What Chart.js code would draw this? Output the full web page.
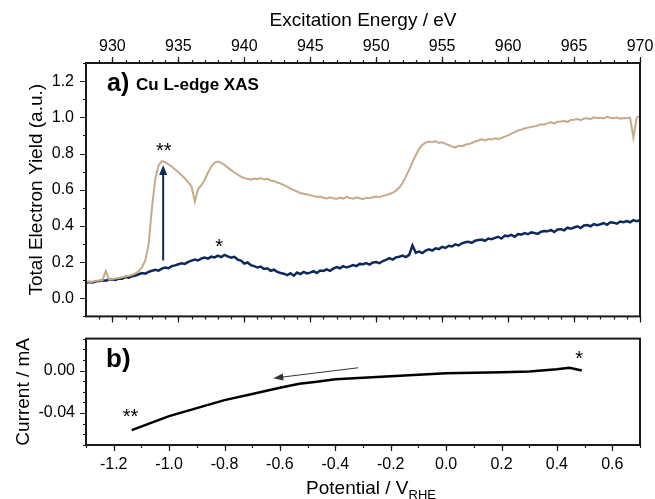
<!DOCTYPE html>
<html>
<head>
<meta charset="utf-8">
<script src="https://cdn.jsdelivr.net/npm/chart.js@4.4.1/dist/chart.umd.min.js"></script>
<style>
body { margin: 0; background: #fff; }
#xas { position: absolute; left: 0; top: 0; }
#cv { position: absolute; left: 0; top: 324px; }
</style>
</head>
<body>
<canvas id="xas" width="655" height="332"></canvas>
<canvas id="cv" width="655" height="175"></canvas>
<script>
// a) Cu L-edge XAS, sampled every 0.25 eV from 928 eV (one row = 1 eV)
var energyStart = 928;
var energyStep = 0.25;
var tanYield = [
  0.090, 0.093, 0.092, 0.097,
  0.098, 0.101, 0.150, 0.104,
  0.106, 0.110, 0.112, 0.116,
  0.121, 0.124, 0.130, 0.138,
  0.150, 0.172, 0.210, 0.300,
  0.500, 0.660, 0.735, 0.758,
  0.752, 0.740, 0.728, 0.712,
  0.697, 0.680, 0.662, 0.640,
  0.618, 0.535, 0.604, 0.625,
  0.655, 0.695, 0.728, 0.750,
  0.755, 0.748, 0.737, 0.722,
  0.708, 0.695, 0.683, 0.672,
  0.664, 0.660, 0.655, 0.662,
  0.658, 0.664, 0.656, 0.660,
  0.651, 0.648, 0.640, 0.634,
  0.625, 0.617, 0.606, 0.598,
  0.590, 0.582, 0.578, 0.574,
  0.569, 0.566, 0.560, 0.562,
  0.556, 0.552, 0.558, 0.553,
  0.549, 0.556, 0.551, 0.560,
  0.554, 0.550, 0.558, 0.553,
  0.548, 0.556, 0.553, 0.558,
  0.562, 0.558, 0.567, 0.570,
  0.576, 0.583, 0.595, 0.612,
  0.637, 0.672, 0.710, 0.752,
  0.790, 0.825, 0.848, 0.860,
  0.866, 0.862, 0.868, 0.858,
  0.862, 0.853, 0.847, 0.838,
  0.834, 0.842, 0.840, 0.848,
  0.852, 0.858, 0.866, 0.872,
  0.878, 0.872, 0.880, 0.877,
  0.884, 0.880, 0.886, 0.893,
  0.900, 0.910, 0.918, 0.927,
  0.932, 0.938, 0.943, 0.947,
  0.950, 0.955, 0.962, 0.959,
  0.968, 0.972, 0.966, 0.975,
  0.977, 0.980, 0.975, 0.985,
  0.986, 0.990, 0.984, 0.993,
  0.995, 0.990, 1.000, 0.996,
  0.998, 0.994, 1.003, 0.997,
  0.995, 0.999, 0.992, 0.996,
  0.995, 0.998, 0.887, 0.998,
  1.007
];
var navyYield = [
  0.085, 0.090, 0.087, 0.094,
  0.096, 0.100, 0.097, 0.104,
  0.105, 0.101, 0.110, 0.108,
  0.118, 0.114, 0.122, 0.126,
  0.133, 0.140, 0.136, 0.146,
  0.152, 0.158, 0.153, 0.164,
  0.170, 0.166, 0.178, 0.182,
  0.188, 0.194, 0.190, 0.201,
  0.208, 0.214, 0.209, 0.220,
  0.225, 0.219, 0.230, 0.226,
  0.236, 0.228, 0.240, 0.232,
  0.224, 0.229, 0.214, 0.208,
  0.192, 0.198, 0.183, 0.178,
  0.170, 0.175, 0.162, 0.166,
  0.152, 0.158, 0.146, 0.140,
  0.136, 0.128, 0.138, 0.125,
  0.142, 0.134, 0.146, 0.138,
  0.142, 0.150, 0.140, 0.153,
  0.151, 0.160, 0.152, 0.164,
  0.172, 0.166, 0.178, 0.170,
  0.176, 0.184, 0.178, 0.190,
  0.188, 0.195, 0.186, 0.198,
  0.200, 0.194, 0.206, 0.212,
  0.222, 0.214, 0.226, 0.230,
  0.236, 0.228, 0.240, 0.292,
  0.252, 0.258, 0.250, 0.264,
  0.270, 0.264, 0.276, 0.272,
  0.284, 0.278, 0.290, 0.286,
  0.298, 0.292, 0.304, 0.310,
  0.312, 0.306, 0.318, 0.322,
  0.325, 0.318, 0.330, 0.327,
  0.334, 0.340, 0.330, 0.346,
  0.343, 0.350, 0.340, 0.355,
  0.352, 0.360, 0.354, 0.364,
  0.361, 0.356, 0.368, 0.372,
  0.370, 0.378, 0.366, 0.380,
  0.382, 0.376, 0.390, 0.384,
  0.391, 0.398, 0.388, 0.402,
  0.405, 0.398, 0.410, 0.404,
  0.409, 0.416, 0.406, 0.420,
  0.418, 0.412, 0.424, 0.420,
  0.427, 0.420, 0.432, 0.426,
  0.432
];
var energyTicks = [930, 935, 940, 945, 950, 955, 960, 965, 970];
var yieldTicks = [0, 0.2, 0.4, 0.6, 0.8, 1.0, 1.2];

// b) current during the cathodic sweep
var potential = [-1.135, -1.0, -0.8, -0.708, -0.6, -0.53, -0.467, -0.4, -0.2, 0.0, 0.2, 0.3, 0.4, 0.445, 0.49];
var current = [-0.056, -0.0429, -0.0278, -0.0226, -0.0162, -0.0125, -0.0105, -0.0083, -0.0055, -0.0026, -0.0017, -0.0009, 0.0012, 0.0026, 0.0];
var potentialTicks = [-1.2, -1.0, -0.8, -0.6, -0.4, -0.2, 0, 0.2, 0.4, 0.6];
var currentTicks = [-0.04, 0];

var TAN = '#c8a98a';
var NAVY = '#0e2a5a';
var FONT = "'Liberation Sans', Arial, sans-serif";

Chart.defaults.font.family = FONT;
Chart.defaults.color = '#000';

var energy = tanYield.map(function(v, i) { return energyStart + i * energyStep; });

function pts(xs, ys) {
  return ys.map(function(y, i) { return {x: xs[i], y: y}; });
}
function range(a, b, step) {
  var out = [];
  for (var v = a; v <= b + 1e-9; v += step) out.push(+v.toFixed(6));
  return out;
}
function setTicks(list) {
  return function(s) { s.ticks = list.map(function(v) { return {value: v}; }); };
}

// tick marks outside the frame, drawn from the scales
function marks(chart, id, values, len, side) {
  var s = chart.scales[id], a = chart.chartArea, ctx = chart.ctx;
  ctx.beginPath();
  values.forEach(function(v) {
    var p = Math.round(s.getPixelForValue(v)) + 0.5;
    if (side === 'top') { ctx.moveTo(p, a.top); ctx.lineTo(p, a.top - len); }
    if (side === 'bottom') { ctx.moveTo(p, a.bottom); ctx.lineTo(p, a.bottom + len); }
    if (side === 'left') { ctx.moveTo(a.left, p); ctx.lineTo(a.left - len, p); }
  });
  ctx.stroke();
}
function frame(chart) {
  var a = chart.chartArea, ctx = chart.ctx;
  ctx.strokeStyle = '#1a1a1a';
  ctx.lineWidth = 2;
  ctx.strokeRect(a.left, a.top, a.right - a.left, a.bottom - a.top);
  ctx.lineWidth = 1.2;
}
function arrow(ctx, x1, y1, x2, y2, color, w, head, half) {
  var ang = Math.atan2(y2 - y1, x2 - x1);
  ctx.strokeStyle = color; ctx.fillStyle = color; ctx.lineWidth = w;
  ctx.beginPath();
  ctx.moveTo(x1, y1);
  ctx.lineTo(x2 - Math.cos(ang) * head * 0.8, y2 - Math.sin(ang) * head * 0.8);
  ctx.stroke();
  ctx.beginPath();
  ctx.moveTo(x2, y2);
  ctx.lineTo(x2 - head * Math.cos(ang) + half * Math.sin(ang), y2 - head * Math.sin(ang) - half * Math.cos(ang));
  ctx.lineTo(x2 - head * Math.cos(ang) - half * Math.sin(ang), y2 - head * Math.sin(ang) + half * Math.cos(ang));
  ctx.closePath();
  ctx.fill();
}
function label(ctx, text, x, y, font, align) {
  ctx.font = font;
  ctx.fillStyle = '#000';
  ctx.textAlign = align || 'center';
  ctx.textBaseline = 'middle';
  ctx.fillText(text, x, y);
}

var xasDecor = {
  id: 'xasDecor',
  afterDraw: function(chart) {
    var ctx = chart.ctx, a = chart.chartArea, x = chart.scales.x, y = chart.scales.y;
    ctx.save();
    frame(chart);
    ctx.strokeStyle = '#1a1a1a';
    marks(chart, 'x', energyTicks, 6, 'top');
    marks(chart, 'x', range(929, 970, 1), 3, 'top');
    marks(chart, 'xb', energyTicks, 6, 'bottom');
    marks(chart, 'xb', range(929, 970, 1), 3, 'bottom');
    marks(chart, 'y', yieldTicks, 6, 'left');
    marks(chart, 'y', range(-0.1, 1.3, 0.1), 3, 'left');

    label(ctx, 'a)', a.left + 21, a.top + 21, 'bold 25px ' + FONT, 'left');
    label(ctx, 'Cu L-edge XAS', a.left + 50, a.top + 22, 'bold 17px ' + FONT, 'left');

    var ax = x.getPixelForValue(933.85);
    arrow(ctx, ax, y.getPixelForValue(0.209), ax, y.getPixelForValue(0.736), NAVY, 2, 10, 4);
    label(ctx, '**', x.getPixelForValue(933.9), y.getPixelForValue(0.81), '20px ' + FONT);
    label(ctx, '*', x.getPixelForValue(938.1), y.getPixelForValue(0.28), '20px ' + FONT);
    ctx.restore();
  }
};

var cvDecor = {
  id: 'cvDecor',
  afterDraw: function(chart) {
    var ctx = chart.ctx, a = chart.chartArea, x = chart.scales.x, y = chart.scales.y;
    ctx.save();
    frame(chart);
    ctx.strokeStyle = '#1a1a1a';
    marks(chart, 'x', potentialTicks, 6, 'bottom');
    marks(chart, 'x', range(-1.3, 0.7, 0.1), 3, 'bottom');
    marks(chart, 'y', currentTicks, 6, 'left');
    marks(chart, 'y', range(-0.07, 0.03, 0.01), 3, 'left');

    label(ctx, 'b)', a.left + 20, a.top + 21, 'bold 26px ' + FONT, 'left');
    arrow(ctx, x.getPixelForValue(-0.317), y.getPixelForValue(0.0026),
      x.getPixelForValue(-0.624), y.getPixelForValue(-0.0072), '#333', 1, 10, 3.5);
    label(ctx, '**', x.getPixelForValue(-1.139), y.getPixelForValue(-0.0445), '20px ' + FONT);
    label(ctx, '*', x.getPixelForValue(0.48), y.getPixelForValue(0.010), '20px ' + FONT);

    // axis title with subscript
    ctx.textBaseline = 'alphabetic';
    ctx.textAlign = 'left';
    var main = 'Potential / V';
    ctx.font = '13px ' + FONT;
    var subW = ctx.measureText('RHE').width;
    ctx.font = '19px ' + FONT;
    var mainW = ctx.measureText(main).width;
    var cx = (a.left + a.right) / 2 + 8;
    var sx = cx - (mainW + subW) / 2;
    ctx.fillText(main, sx, 170);
    ctx.font = '13px ' + FONT;
    ctx.fillText('RHE', sx + mainW, 175);
    ctx.restore();
  }
};

var common = {
  responsive: false,
  animation: false,
  events: [],
  plugins: { legend: { display: false }, tooltip: { enabled: false } },
  elements: { point: { radius: 0 }, line: { tension: 0 } }
};

new Chart(document.getElementById('xas'), {
  type: 'line',
  data: {
    datasets: [
      { data: pts(energy, tanYield), borderColor: TAN, borderWidth: 2, xAxisID: 'x', yAxisID: 'y' },
      { data: pts(energy, navyYield), borderColor: NAVY, borderWidth: 2.5, xAxisID: 'x', yAxisID: 'y' }
    ]
  },
  options: Object.assign({}, common, {
    layout: { padding: { left: 0, right: 15, top: 0, bottom: 0 } },
    scales: {
      x: {
        type: 'linear', position: 'top', min: 928, max: 970,
        afterBuildTicks: setTicks(energyTicks),
        afterFit: function(s) { s.height = 63; },
        grid: { display: false, tickLength: 6 },
        border: { display: false },
        ticks: { font: { size: 16 }, padding: 1, maxRotation: 0, callback: function(v) { return v; } },
        title: { display: true, text: 'Excitation Energy / eV', font: { size: 19 }, padding: { top: 9 } }
      },
      xb: {
        type: 'linear', position: 'bottom', min: 928, max: 970,
        afterFit: function(s) { s.height = 8; },
        grid: { display: false },
        border: { display: false },
        ticks: { display: false }
      },
      y: {
        type: 'linear', position: 'left', min: -0.1, max: 1.3,
        afterBuildTicks: setTicks(yieldTicks),
        afterFit: function(s) { s.width = 86; },
        grid: { display: false, tickLength: 6 },
        border: { display: false },
        ticks: { font: { size: 16 }, padding: 6, callback: function(v) { return v.toFixed(1); } },
        title: { display: true, text: 'Total Electron Yield (a.u.)', font: { size: 19 }, padding: { top: 25 } }
      }
    }
  }),
  plugins: [xasDecor]
});

new Chart(document.getElementById('cv'), {
  type: 'line',
  data: {
    datasets: [
      { data: pts(potential, current), borderColor: '#000', borderWidth: 2.5 }
    ]
  },
  options: Object.assign({}, common, {
    layout: { padding: { left: 0, right: 15, top: 7, bottom: 0 } },
    scales: {
      x: {
        type: 'linear', position: 'bottom', min: -1.3, max: 0.7,
        afterBuildTicks: setTicks(potentialTicks),
        afterFit: function(s) { s.height = 54; },
        grid: { display: false, tickLength: 6 },
        border: { display: false },
        ticks: { font: { size: 16 }, padding: 4, maxRotation: 0, callback: function(v) { return v.toFixed(1); } }
      },
      y: {
        type: 'linear', position: 'left', min: -0.07, max: 0.03,
        afterBuildTicks: setTicks(currentTicks),
        afterFit: function(s) { s.width = 86; },
        grid: { display: false, tickLength: 6 },
        border: { display: false },
        ticks: { font: { size: 16 }, padding: 5, callback: function(v) { return v.toFixed(2); } },
        title: { display: true, text: 'Current / mA', font: { size: 19 }, padding: { top: 12 } }
      }
    }
  }),
  plugins: [cvDecor]
});
</script>
</body>
</html>
